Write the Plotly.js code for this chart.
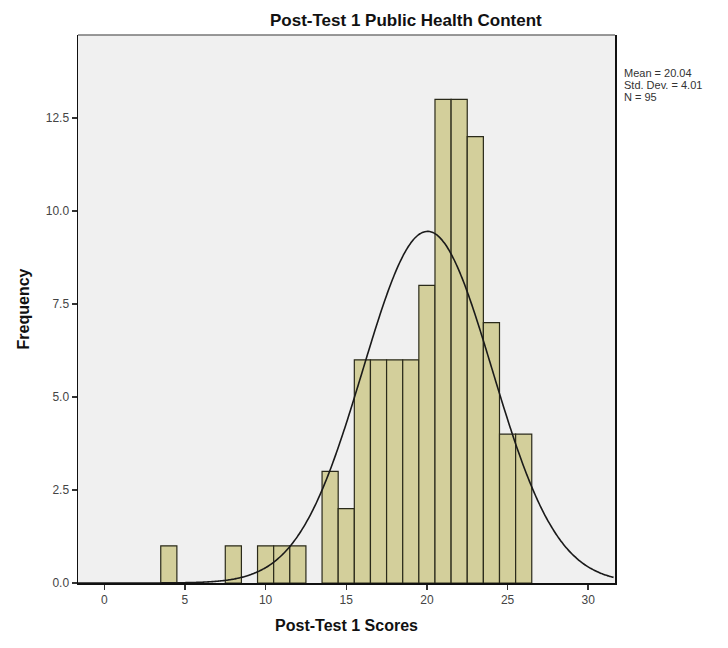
<!DOCTYPE html>
<html>
<head>
<meta charset="utf-8">
<script src="https://cdn.plot.ly/plotly-3.0.1.min.js"></script>
<style>html,body{margin:0;padding:0;background:#fff;}#chart{width:728px;height:648px;}</style>
</head>
<body>
<div id="chart"></div>
<script>
// Histogram bins (score value, centered) and frequencies
const scores = [4, 8, 10, 11, 12, 14, 15, 16, 17, 18, 19, 20, 21, 22, 23, 24, 25, 26];
const freqs  = [1, 1, 1, 1, 1, 3, 2, 6, 6, 6, 6, 8, 13, 13, 12, 7, 4, 4];
// Summary statistics shown in the chart
const statMean = 20.04;
const statSD = 4.01;
const statN = 95;
const binWidth = 1;
const xTicks = [0, 5, 10, 15, 20, 25, 30];
const yTicks = [0, 2.5, 5, 7.5, 10, 12.5];
const statLines = ["Mean = 20.04", "Std. Dev. = 4.01", "N = 95"];

const xRange = [-1.63, 31.66];
const yRange = [0, 14.73];

// Fitted normal curve from the displayed mean / SD / N (as SPSS draws it)
const curveX = [], curveY = [];
for (let x = xRange[0]; x <= xRange[1] + 1e-9; x += 0.1) {
  curveX.push(x);
  curveY.push(statN * binWidth / (statSD * Math.sqrt(2 * Math.PI)) *
    Math.exp(-0.5 * Math.pow((x - statMean) / statSD, 2)));
}

const font = "Arial, 'Liberation Sans', sans-serif";

const traces = [
  {
    type: 'bar', x: scores, y: freqs, width: binWidth,
    marker: {color: '#d3cf9b', line: {color: '#2a2a1a', width: 1.2}},
    hoverinfo: 'skip'
  },
  {
    type: 'scatter', mode: 'lines', x: curveX, y: curveY,
    line: {color: '#1a1a1a', width: 1.6, shape: 'spline'},
    hoverinfo: 'skip'
  }
];

const annotations = statLines.map((t, i) => ({
  text: t, xref: 'paper', yref: 'paper', x: 1, xshift: 8, xanchor: 'left',
  y: 1, yshift: -31 - i * 12, yanchor: 'top', showarrow: false,
  borderpad: 0,
  font: {family: font, size: 11, color: '#333'}
}));
annotations.push({
  text: '<b>Post-Test 1 Public Health Content</b>', xref: 'paper', yref: 'paper',
  x: 0.61, y: 1, yshift: 3, xanchor: 'center', yanchor: 'bottom', showarrow: false,
  font: {family: font, size: 17, color: '#111'}
});

const layout = {
  width: 728, height: 648,
  margin: {l: 78, r: 113, t: 35, b: 65},
  paper_bgcolor: '#ffffff', plot_bgcolor: '#f0f0f0',
  showlegend: false, bargap: 0,
  font: {family: font},
  xaxis: {
    range: xRange, tickvals: xTicks, ticktext: xTicks.map(String),
    showgrid: false, zeroline: false, showline: true, linecolor: '#111', linewidth: 1.5,
    ticks: 'outside', ticklen: 5, tickcolor: '#333', tickwidth: 1.5,
    tickfont: {family: font, size: 12, color: '#444'},
    title: {text: '<b>Post-Test 1 Scores</b>', font: {family: font, size: 16, color: '#111'}, standoff: 14}
  },
  yaxis: {
    range: yRange, tickvals: yTicks, ticktext: yTicks.map(v => v.toFixed(1)),
    showgrid: false, zeroline: false, showline: true, linecolor: '#111', linewidth: 1.5,
    mirror: true,
    ticks: 'outside', ticklen: 5, tickcolor: '#333', tickwidth: 1.5,
    tickfont: {family: font, size: 12, color: '#444'},
    title: {text: '<b>Frequency</b>', font: {family: font, size: 16, color: '#111'}, standoff: 12}
  },
  shapes: [
    {type: 'line', xref: 'paper', yref: 'paper', x0: 0, x1: 1, y0: 1, y1: 1,
     line: {color: '#777', width: 1.5}}
  ],
  annotations: annotations
};

Plotly.newPlot('chart', traces, layout, {displayModeBar: false, staticPlot: true});
</script>
</body>
</html>
